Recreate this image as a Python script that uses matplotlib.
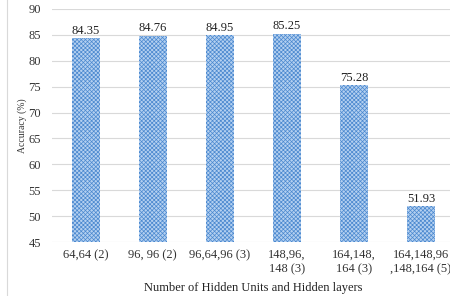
import matplotlib.pyplot as plt
import matplotlib.patches as patches

plt.rcParams['font.family'] = ['Liberation Serif', 'DejaVu Serif']
plt.rcParams['hatch.linewidth'] = 0.5
plt.rcParams['hatch.color'] = '#4A88CF'

labels = ['64,64 (2)', '96, 96 (2)', '96,64,96 (3)', '148,96,\n148 (3)',
          '164,148,\n164 (3)', '164,148,96\n,148,164 (5)']
acc = [84.35, 84.76, 84.95, 85.25, 75.28, 51.93]

fig = plt.figure(figsize=(4.5, 2.96), dpi=100)
ax = fig.add_axes([0.116, 0.182, 0.894, 0.788])

x = range(len(labels))
bars = ax.bar(x, acc, width=0.42, color='#B4D0F0', edgecolor='#4A88CF',
              hatch='xxxxxxxx', linewidth=0, zorder=3)
for xi, v in zip(x, acc):
    ax.text(xi, v + 0.3, f'{v:.2f}', ha='center', va='bottom', fontsize=9, color='#222222')

ax.set_ylim(45, 90)
ax.set_yticks(range(45, 91, 5))
ax.set_xlim(-0.5, 5.5)
ax.set_xticks(list(x))
ax.set_xticklabels(labels, fontsize=9, color='#333333', linespacing=1.2)
ax.tick_params(axis='y', labelsize=9, colors='#333333', length=0, pad=8)
ax.tick_params(axis='x', length=0, pad=5)
ax.grid(axis='y', color='#D9D9D9', linewidth=0.8, zorder=0)
for s in ax.spines.values():
    s.set_visible(False)

ax.set_ylabel('Accuracy (%)', fontsize=7, color='#333333', labelpad=1)
ax.set_xlabel('Number of Hidden Units and Hidden layers', fontsize=9, color='#222222', labelpad=5)

fig.patches.append(patches.Rectangle((0.016, -0.01), 1.0, 1.02, transform=fig.transFigure,
                                     fill=False, edgecolor='#D9D9D9', linewidth=0.8))

fig.savefig('out.png', dpi=100)
